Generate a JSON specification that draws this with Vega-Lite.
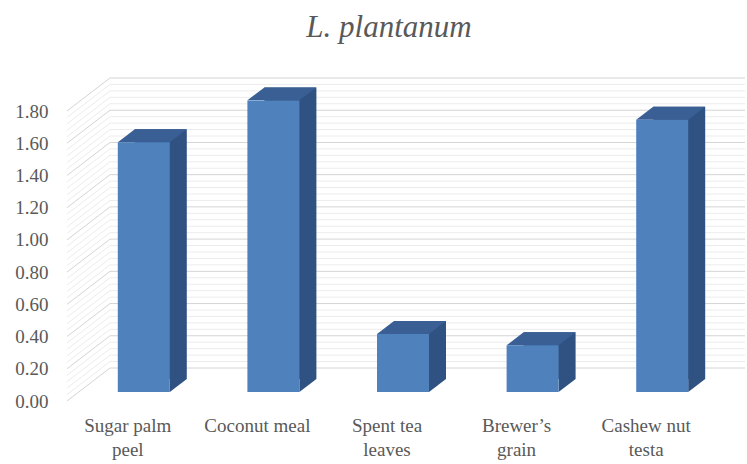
{
  "$schema": "https://vega.github.io/schema/vega-lite/v6.json",
  "width": 648,
  "height": 290,
  "autosize": "none",
  "padding": {"left": 63, "top": 78, "right": 36, "bottom": 96},
  "background": "#ffffff",
  "config": {
    "view": {"stroke": null},
    "axisY": {"labelOverlap": false, "labelFlush": false, "tickCount": 10}
  },
  "title": {"text": "L. plantanum", "font": "Liberation Serif", "fontStyle": "italic", "fontWeight": "normal", "fontSize": 31, "color": "#595959", "dx": 2, "offset": 8, "baseline": "alphabetic"},
  "datasets": {
    "bars": [
      {"cat": "Sugar palm peel", "v": 1.55},
      {"cat": "Coconut meal", "v": 1.81},
      {"cat": "Spent tea leaves", "v": 0.36},
      {"cat": "Brewer’s grain", "v": 0.29},
      {"cat": "Cashew nut testa", "v": 1.69}
    ],
    "major": [{"g": 0}, {"g": 0.2}, {"g": 0.4}, {"g": 0.6}, {"g": 0.8}, {"g": 1.0}, {"g": 1.2}, {"g": 1.4}, {"g": 1.6}, {"g": 1.8}],
    "minor": [{"g": 0.04}, {"g": 0.08}, {"g": 0.12}, {"g": 0.16}, {"g": 0.24}, {"g": 0.28}, {"g": 0.32}, {"g": 0.36}, {"g": 0.44}, {"g": 0.48}, {"g": 0.52}, {"g": 0.56}, {"g": 0.64}, {"g": 0.68}, {"g": 0.72}, {"g": 0.76}, {"g": 0.84}, {"g": 0.88}, {"g": 0.92}, {"g": 0.96}, {"g": 1.04}, {"g": 1.08}, {"g": 1.12}, {"g": 1.16}, {"g": 1.24}, {"g": 1.28}, {"g": 1.32}, {"g": 1.36}, {"g": 1.44}, {"g": 1.48}, {"g": 1.52}, {"g": 1.56}, {"g": 1.64}, {"g": 1.68}, {"g": 1.72}, {"g": 1.76}]
  },
  "encoding": {
    "y": {
      "type": "quantitative",
      "scale": {"domain": [0, 1.8], "nice": false, "zero": true},
      "axis": {
        "title": null, "domain": false, "ticks": false, "grid": false,
        "values": [0, 0.2, 0.4, 0.6, 0.8, 1.0, 1.2, 1.4, 1.6, 1.8],
        "format": ".2f", "labelFont": "Liberation Serif", "labelFontSize": 19, "labelColor": "#595959",
        "labelPadding": 15, "labelOffset": 33, "labelOverlap": false, "labelFlush": false
      }
    }
  },
  "layer": [
    {
      "data": {"name": "minor"},
      "mark": {"type": "rule", "color": "#ECECEC", "strokeWidth": 1, "xOffset": -17.8, "x2Offset": 98.8},
      "encoding": {
        "x": {"datum": "Sugar palm peel", "type": "nominal"},
        "x2": {"datum": "Cashew nut testa"},
        "y": {"field": "g", "type": "quantitative"}
      }
    },
    {
      "data": {"name": "minor"},
      "mark": {"type": "point", "shape": "M-1,0.767L1,-0.767", "size": 1849, "filled": false, "stroke": "#ECECEC", "strokeWidth": 1, "opacity": 1, "xOffset": -39.3, "yOffset": 16.5},
      "encoding": {
        "x": {"datum": "Sugar palm peel", "type": "nominal"},
        "y": {"field": "g", "type": "quantitative"}
      }
    },
    {
      "data": {"name": "major"},
      "mark": {"type": "rule", "color": "#D4D4D4", "strokeWidth": 1, "xOffset": -17.8, "x2Offset": 98.8},
      "encoding": {
        "x": {"datum": "Sugar palm peel", "type": "nominal"},
        "x2": {"datum": "Cashew nut testa"},
        "y": {"field": "g", "type": "quantitative"}
      }
    },
    {
      "data": {"name": "major"},
      "mark": {"type": "point", "shape": "M-1,0.767L1,-0.767", "size": 1849, "filled": false, "stroke": "#D4D4D4", "strokeWidth": 1, "opacity": 1, "xOffset": -39.3, "yOffset": 16.5},
      "encoding": {
        "x": {"datum": "Sugar palm peel", "type": "nominal"},
        "y": {"field": "g", "type": "quantitative"}
      }
    },
    {
      "data": {"name": "bars"},
      "mark": {"type": "bar", "width": 52, "color": "#2F5282", "xOffset": 33, "x2Offset": 33, "yOffset": 11, "y2Offset": 11},
      "encoding": {
        "x": {"field": "cat", "type": "nominal", "sort": null},
        "y": {"field": "v", "type": "quantitative"}
      }
    },
    {
      "data": {"name": "bars"},
      "mark": {"type": "point", "shape": "M-1,-0.765L-1,0.765L1,-0.765Z", "size": 289, "filled": true, "color": "#2F5282", "strokeWidth": 0, "opacity": 1, "xOffset": 50.5, "yOffset": 17.5},
      "encoding": {
        "x": {"field": "cat", "type": "nominal", "sort": null},
        "y": {"datum": 0, "type": "quantitative"}
      }
    },
    {
      "data": {"name": "bars"},
      "mark": {"type": "point", "shape": "M-1,0.188L-0.507,-0.188L1,-0.188L0.507,0.188Z", "size": 4761, "filled": true, "color": "#3A5F94", "strokeWidth": 0, "opacity": 1, "xOffset": 24.5, "yOffset": 17.5},
      "encoding": {
        "x": {"field": "cat", "type": "nominal", "sort": null},
        "y": {"field": "v", "type": "quantitative"}
      }
    },
    {
      "data": {"name": "bars"},
      "mark": {"type": "bar", "width": 52, "color": "#4F81BD", "xOffset": 16, "x2Offset": 16, "yOffset": 24, "y2Offset": 24},
      "encoding": {
        "x": {
          "field": "cat", "type": "nominal", "sort": null,
          "scale": {"domain": ["Sugar palm peel", "Coconut meal", "Spent tea leaves", "Brewer’s grain", "Cashew nut testa"], "paddingInner": 0, "paddingOuter": 0},
          "axis": {
            "title": null, "domain": false, "ticks": false, "grid": false,
            "labelAngle": 0, "labelFont": "Liberation Serif", "labelFontSize": 19, "labelColor": "#595959",
            "labelPadding": 48, "labelLineHeight": 24, "labelBaseline": "top", "labelAlign": "center", "labelOverlap": false,
            "labelExpr": "datum.label == 'Sugar palm peel' ? ['Sugar palm', 'peel'] : datum.label == 'Spent tea leaves' ? ['Spent tea', 'leaves'] : datum.label == 'Brewer’s grain' ? ['Brewer’s', 'grain'] : datum.label == 'Cashew nut testa' ? ['Cashew nut', 'testa'] : datum.label"
          }
        },
        "y": {"field": "v", "type": "quantitative"}
      }
    }
  ]
}
